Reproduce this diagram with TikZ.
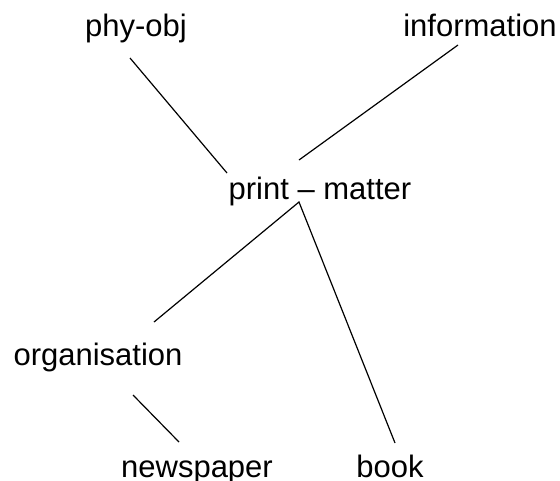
\documentclass[tikz,border=0pt]{standalone}
\usepackage{fontspec}
\setmainfont{Liberation Sans}
\begin{document}
\begin{tikzpicture}[x=1pt,y=-1pt,
  lbl/.style={anchor=base,inner sep=0pt,font=\fontsize{31}{37}\selectfont},
  link/.style={line width=1.2pt,black}]
\useasboundingbox (0,0) rectangle (560,480);
\node[lbl] (phy) at (136,36) {phy-obj};
\node[lbl] (info) at (480,36) {information};
\node[lbl] (pm) at (320,199) {print – matter};
\node[lbl] (org) at (98,365) {organisation};
\node[lbl] (news) at (197,477) {newspaper};
\node[lbl] (book) at (390,477) {book};
% connector end points
\coordinate (phyB) at (130,58);
\coordinate (pmA) at (227,173);
\coordinate (infoB) at (458,45);
\coordinate (pmB) at (299,160);
\coordinate (pmC) at (299,202);
\coordinate (orgT) at (154,322);
\coordinate (bookT) at (395,443);
\coordinate (orgB) at (133,395);
\coordinate (newsT) at (179,442);
\draw[link] (phyB) -- (pmA);
\draw[link] (infoB) -- (pmB);
\draw[link] (orgT) -- (pmC) -- (bookT);
\draw[link] (orgB) -- (newsT);
\end{tikzpicture}
\end{document}
